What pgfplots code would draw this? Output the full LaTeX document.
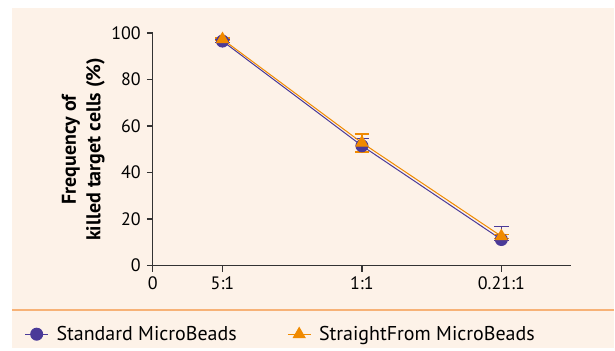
\documentclass[border=0pt]{standalone}
\usepackage{fontspec}
\setmainfont{PT Sans}
\usepackage{pgfplots}
\pgfplotsset{compat=1.18}
\definecolor{bg}{HTML}{FDF2E8}
\definecolor{sep}{HTML}{F7B277}
\definecolor{cblue}{HTML}{4A3A98}
\definecolor{corange}{HTML}{F08A00}
\definecolor{axc}{HTML}{333333}
\begin{document}
\begin{tikzpicture}
\path (0pt,0pt) rectangle (461.25pt,263.25pt);
\fill[bg] (9pt,1.5pt) rectangle (461.25pt,257.25pt);
\draw[sep,line width=1.5pt] (9pt,30.5pt) -- (461.25pt,30.5pt);
\begin{axis}[
  at={(114.75pt,63.75pt)}, anchor=south west,
  scale only axis, width=314.25pt, height=174.75pt,
  xmin=0, xmax=3, ymin=0, ymax=100,
  axis lines*=left,
  axis line style={axc, line width=1.1pt},
  tick style={axc, line width=1.1pt},
  tick align=outside, major tick length=4.5pt,
  xtick={0,0.5,1.5,2.5},
  xticklabels={0,5:1,1:1,0.21:1},
  ytick={0,20,40,60,80,100},
  /pgf/number format/assume math mode=true,
  tick label style={font=\fontsize{13.5}{15}\selectfont, text=black},
  yticklabel style={xshift=-1pt},
  ylabel={\textbf{Frequency of}\\\textbf{killed target cells (\%)}},
  ylabel style={align=center, font=\fontsize{15}{18.5}\selectfont, yshift=-2pt},
  legend style={at={(rel axis cs:-0.316,-0.295)}, anchor=west, draw=none, fill=none,
    legend columns=2, font=\fontsize{15}{17}\selectfont,
    /tikz/every odd column/.append style={column sep=4pt},
    /tikz/every even column/.append style={column sep=36pt}},
  legend cell align=left,
  clip=false,
]
\addplot[cblue, line width=0.75pt, mark=*, mark size=4.5pt, mark options={fill=cblue},
  error bars/.cd, y dir=both, y explicit, error mark options={rotate=90, mark size=5.5pt, line width=0.9pt, cblue}, error bar style={line width=0.9pt}]
  coordinates {(0.5,96.5) +- (0,0.5) (1.5,51.5) += (0,3) -= (0,2.5) (2.5,11.2) += (0,5.5) -= (0,0.5)};
\addlegendentry{Standard MicroBeads}
\addplot[corange, line width=0.75pt, mark=triangle*, mark size=5pt, mark options={fill=corange},
  error bars/.cd, y dir=both, y explicit, error mark options={rotate=90, mark size=5.5pt, line width=0.9pt, corange}, error bar style={line width=0.9pt}]
  coordinates {(0.5,97.3) +- (0,0.5) (1.5,52.8) += (0,3.8) -= (0,4) (2.5,12.6) += (0,0.8) -= (0,0.8)};
\addlegendentry{StraightFrom MicroBeads}
\end{axis}
\end{tikzpicture}
\end{document}
